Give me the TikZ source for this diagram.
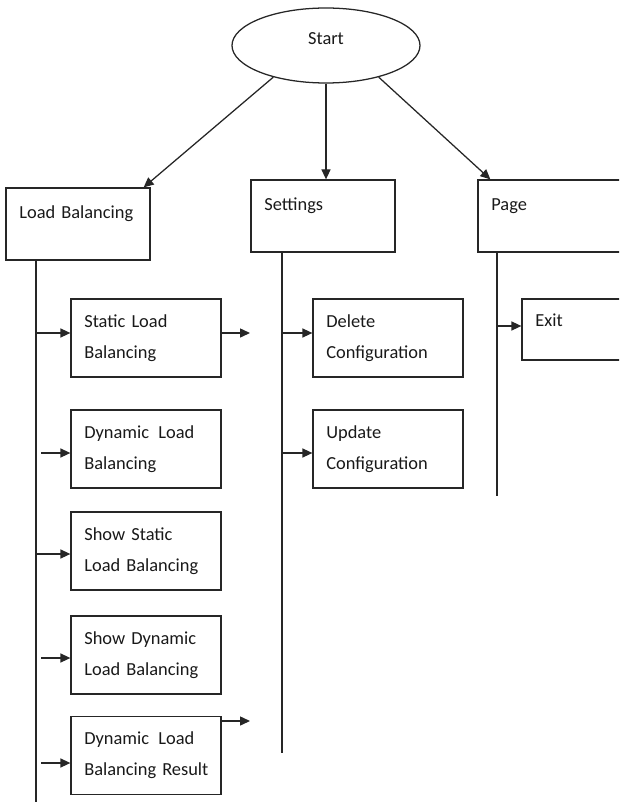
\documentclass[tikz,border=0pt]{standalone}
\usepackage{fontspec}
\setmainfont{Carlito}
\usetikzlibrary{arrows.meta,shapes.geometric}
\newcommand\upline[2][4.5pt]{\raisebox{#1}[0pt][0pt]{#2}}
\begin{document}
\begin{tikzpicture}[x=0.75pt,y=-0.75pt,
  every node/.style={font=\fontsize{13.8pt}{23.25pt}\selectfont, text=black!90},
  line/.style={draw=black!85, line width=0.95pt},
  arr/.style={line, -{Triangle[length=7.5pt,width=6.8pt]}},
  startell/.style={ellipse, draw=black!85, line width=0.95pt, minimum width=141pt, minimum height=56.25pt, inner sep=0pt},
  topbox/.style={draw=black!85, line width=0.95pt, minimum width=108pt, minimum height=54pt, text width=88pt, inner xsep=10pt, inner ysep=0pt, align=left},
  subbox/.style={draw=black!85, line width=0.95pt, minimum width=112.5pt, minimum height=58.5pt, text width=92.5pt, inner xsep=10pt, inner ysep=0pt, align=left}
]
\useasboundingbox (0,0) rectangle (619,802);
\clip (0,0) rectangle (619,802);
% nodes
\node[startell] (start) at (326,45.5) {\upline[1.1pt]{Start}};
\node[topbox] (lb) at (78,224) {\upline{Load Balancing}};
\node[topbox] (set) at (323,216) {\upline{Settings}};
\node[topbox] (page) at (550,216) {\upline{Page}};
\node[subbox] (sl) at (146,338) {Static Load\\Balancing};
\node[subbox] (dl) at (146,449) {Dynamic\ \,Load\\Balancing};
\node[subbox] (ss) at (146,551) {Show Static\\Load Balancing};
\node[subbox] (sd) at (146,655) {Show Dynamic\\Load Balancing};
\node[subbox] (dr) at (146,755.5) {Dynamic\ \,Load\\\mbox{Balancing Result}};
\node[subbox] (del) at (388,338) {Delete\\Configuration};
\node[subbox] (upd) at (388,449) {Update\\Configuration};
\node[subbox, minimum height=45.75pt] (exit) at (597,329.5) {\upline[1.9pt]{Exit}};
% arrows from start
\draw[arr] (start.211) -- ([xshift=-5.25pt]lb.north east);
\draw[arr] (start.south) -- (start.south |- set.north);
\draw[arr] (start.329) -- ([xshift=9.75pt]page.north west);
% vertical lines
\coordinate (lbend) at (36,802);
\coordinate (setend) at (282,753);
\coordinate (pageend) at (497,496);
\draw[line] (lb.south -| lbend) -- (lbend);
\draw[line] (set.south -| setend) -- (setend);
\draw[line] (page.south -| pageend) -- (pageend);
% branches
\coordinate (b1) at (36,333);
\coordinate (b2) at (41,453);
\coordinate (b3) at (36,554);
\coordinate (b4) at (41,658);
\coordinate (b5) at (41,763);
\draw[arr] (b1) -- (b1 -| sl.west);
\draw[arr] (b2) -- (b2 -| dl.west);
\draw[arr] (b3) -- (b3 -| ss.west);
\draw[arr] (b4) -- (b4 -| sd.west);
\draw[arr] (b5) -- (b5 -| dr.west);
\coordinate (o1) at (250,333);
\coordinate (o2) at (250,721);
\draw[arr] (o1 -| sl.east) -- (o1);
\draw[arr] (o2 -| dr.east) -- (o2);
\coordinate (c1) at (282,333);
\coordinate (c2) at (282,453);
\draw[arr] (c1) -- (c1 -| del.west);
\draw[arr] (c2) -- (c2 -| upd.west);
\coordinate (p1) at (497,326);
\draw[arr] (p1) -- (p1 -| exit.west);
\end{tikzpicture}
\end{document}
